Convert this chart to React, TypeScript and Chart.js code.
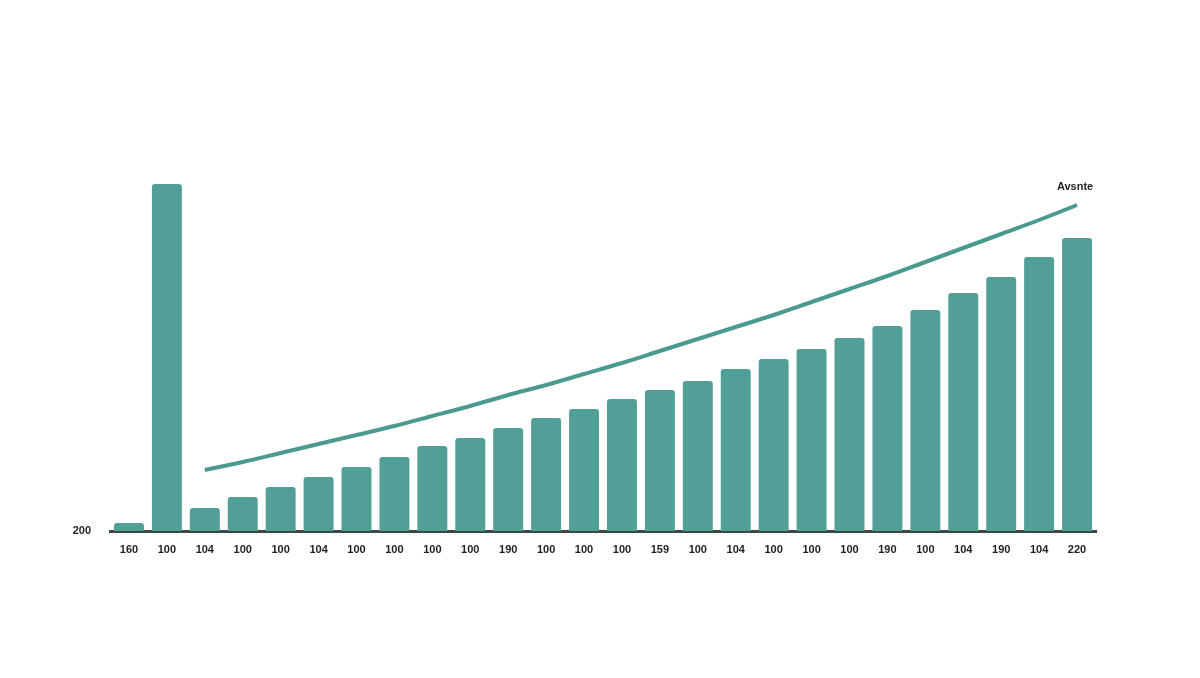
import { useEffect, useRef } from 'react'
import { Chart, registerables } from 'chart.js'

Chart.register(...registerables)

const categories = [
  '160', '100', '104', '100', '100', '104', '100', '100', '100', '100', '190', '100', '100',
  '100', '159', '100', '104', '100', '100', '100', '190', '100', '104', '190', '104', '220',
]

const barValues = [
  208, 547, 223, 234, 244, 254, 264, 274, 285, 293, 303, 313, 322,
  332, 341, 350, 362, 372, 382, 393, 405, 421, 438, 454, 474, 493,
]

const trendValues = [
  null, null, 261, 269, 278, 287, 296, 305, 315, 325, 336, 346, 357,
  368, 380, 392, 404, 416, 429, 442, 455, 469, 483, 497, 511, 526,
]

const yTicks = [200]
const trendLabel = 'Avsnte'

const BAR_COLOR = '#529f97'
const LINE_COLOR = '#4b9a90'

// writes the series name just above the last point of the line
const endLabelPlugin = {
  id: 'endLabel',
  afterDatasetsDraw(chart: Chart) {
    const meta = chart.getDatasetMeta(1)
    const last = meta.data[meta.data.length - 1]
    if (!last) return
    const { ctx } = chart
    ctx.save()
    ctx.font = 'bold 11px "Liberation Sans", Arial, sans-serif'
    ctx.fillStyle = '#1f1f1f'
    ctx.textAlign = 'center'
    ctx.textBaseline = 'middle'
    ctx.fillText(trendLabel, last.x - 2, last.y - 18)
    ctx.restore()
  },
}

export default function App() {
  const chartRef = useRef<HTMLCanvasElement>(null)
  const chartInstance = useRef<Chart | null>(null)

  useEffect(() => {
    if (!chartRef.current) return
    if (chartInstance.current) chartInstance.current.destroy()

    const ctx = chartRef.current.getContext('2d')
    if (!ctx) return

    const tickFont = { family: '"Liberation Sans", Arial, sans-serif', size: 11, weight: 'bold' as const }

    chartInstance.current = new Chart(ctx, {
      type: 'bar',
      data: {
        labels: categories,
        datasets: [
          {
            type: 'bar',
            data: barValues,
            backgroundColor: BAR_COLOR,
            borderRadius: { topLeft: 3, topRight: 3 },
            borderSkipped: 'bottom',
            barPercentage: 0.79,
            categoryPercentage: 1,
            order: 2,
          },
          {
            type: 'line',
            data: trendValues,
            borderColor: LINE_COLOR,
            borderWidth: 4,
            pointRadius: 0,
            tension: 0.3,
            fill: false,
            order: 1,
          },
        ],
      },
      options: {
        responsive: true,
        maintainAspectRatio: false,
        animation: false,
        layout: { padding: { top: 131, left: 0, right: 104, bottom: 107 } },
        plugins: {
          legend: { display: false },
          tooltip: { enabled: false },
        },
        scales: {
          x: {
            grid: { display: false, drawTicks: false },
            border: { display: true, color: '#3b4848', width: 3 },
            ticks: { font: tickFont, color: '#1f1f1f', padding: 12, autoSkip: false, maxRotation: 0 },
            afterFit: (scale: any) => { scale.height = 40 },
          },
          y: {
            min: 200,
            max: 600,
            grid: { display: false, drawTicks: false },
            border: { display: false },
            ticks: { font: tickFont, color: '#1f1f1f', padding: 19 },
            afterBuildTicks: (scale: any) => { scale.ticks = yTicks.map((value) => ({ value })) },
            afterFit: (scale: any) => { scale.width = 110 },
          },
        },
      },
      plugins: [endLabelPlugin],
    })

    return () => {
      if (chartInstance.current) {
        chartInstance.current.destroy()
        chartInstance.current = null
      }
    }
  }, [])

  return (
    <div style={{ position: 'fixed', left: 0, top: 0, width: 1200, height: 678, background: '#fff' }}>
      <canvas ref={chartRef} />
    </div>
  )
}
